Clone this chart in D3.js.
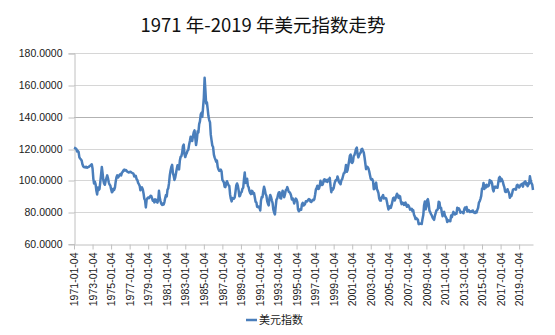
<!DOCTYPE html>
<html>
<head>
<meta charset="utf-8">
<script src="https://cdn.jsdelivr.net/npm/d3@7"></script>
<style>
  html, body { margin: 0; padding: 0; background: #fff; }
  svg { display: block; }
</style>
</head>
<body>
<svg id="chart" width="555" height="335"></svg>
<script>
// US Dollar Index, monthly observations starting 1971-01-04
const startDate = "1971-01-04";

const dxy1970s = [
  120.6,120.4,120.2,119.9,118.3,118.6,117.9,114.5,113.8,113.2,112.4,110.1,
  108.8,108.3,108.5,108.2,108.6,108.0,108.3,108.5,108.9,109.3,109.8,110.2,
  107.5,101.0,98.0,99.2,97.5,93.5,91.2,95.5,94.0,94.6,99.0,103.5,
  108.5,104.5,100.2,98.0,97.3,99.8,101.5,103.2,101.4,98.8,97.4,96.8,
  94.5,92.6,93.0,94.8,94.0,95.5,99.2,102.0,103.2,101.8,102.6,103.5,
  104.0,103.2,104.8,105.4,106.3,106.8,106.2,106.6,106.1,105.5,105.2,105.0,
  105.4,105.5,105.1,104.8,104.6,104.2,102.5,103.0,102.8,100.8,100.2,98.5,
  97.6,96.5,93.8,94.8,95.6,94.5,92.0,88.5,87.5,83.0,87.8,88.8,
  89.2,88.9,89.6,90.3,90.2,88.8,87.3,87.6,86.2,88.1,87.9,86.5
];
const dxy1980s = [
  86.0,87.7,93.5,89.0,87.0,85.3,84.6,85.5,84.8,86.4,88.9,90.8,
  90.0,94.2,95.0,98.3,103.2,106.3,108.5,109.8,104.6,102.9,100.3,101.8,
  104.5,107.3,109.5,108.0,106.9,112.5,114.8,115.3,117.4,121.5,122.5,116.5,
  114.7,116.4,117.2,118.8,119.3,122.5,124.8,127.5,125.6,124.8,127.9,130.3,
  131.5,126.4,122.3,125.5,130.9,130.2,135.4,137.2,141.6,142.5,140.0,145.8,
  152.0,164.6,157.3,148.5,149.2,145.0,140.5,138.0,136.5,128.8,125.2,122.0,
  121.0,116.2,114.5,113.2,111.8,112.5,108.5,106.9,106.0,106.2,106.8,105.6,
  100.4,99.6,98.8,96.0,95.8,98.4,99.5,98.3,96.9,96.6,91.2,88.5,
  86.8,88.9,88.6,88.5,89.3,92.9,96.8,98.1,96.7,93.8,90.0,90.5,
  92.3,92.8,94.8,95.4,100.6,105.0,98.4,99.8,101.1,96.6,95.7,93.4
];
const dxy1990s = [
  92.1,91.4,93.5,93.2,91.6,92.0,89.4,86.6,86.2,83.4,83.2,83.6,
  82.9,81.1,87.2,89.6,89.5,93.4,96.0,94.1,91.3,90.4,87.0,85.4,
  84.3,88.9,90.8,89.6,87.5,85.8,81.6,79.8,78.6,83.5,88.0,88.6,
  91.0,92.5,92.6,88.9,88.6,91.4,93.5,92.2,89.4,91.2,93.8,94.2,
  95.8,94.3,92.7,92.6,91.8,90.4,88.0,88.7,87.4,85.5,87.4,88.6,
  88.0,86.4,81.7,80.6,81.7,81.4,81.5,85.0,85.9,84.2,84.6,85.2,
  86.9,86.7,86.9,87.8,88.3,88.0,86.7,86.4,87.2,87.8,87.5,88.2,
  91.0,94.4,95.2,96.7,94.6,94.8,96.5,99.8,97.8,97.1,97.6,100.0,
  100.7,99.5,100.4,99.4,99.1,100.6,100.2,101.6,96.4,92.6,94.9,94.2,
  95.1,97.8,99.4,100.3,100.1,102.5,101.0,98.9,98.3,97.6,100.1,100.7
];
const dxy2000s = [
  102.5,104.4,104.6,106.3,109.7,105.4,106.4,109.4,112.4,115.6,116.3,111.3,
  111.0,112.0,115.4,116.0,117.8,119.9,120.7,116.5,114.5,115.9,117.0,117.5,
  119.6,119.9,118.6,117.6,114.6,110.8,107.1,108.7,108.4,107.6,105.8,103.4,
  101.1,100.4,100.8,99.6,94.5,94.9,97.5,98.6,94.6,93.5,92.0,88.6,
  87.4,87.3,89.3,89.9,90.8,88.6,88.9,88.9,88.7,86.4,83.8,81.7,
  83.4,83.8,82.7,84.4,86.6,88.8,89.2,87.4,88.6,90.3,91.6,90.8,
  89.0,90.3,89.9,86.7,85.1,86.0,85.7,84.6,85.8,86.1,84.3,83.4,
  84.6,84.1,83.1,81.6,81.9,82.2,80.6,81.3,78.4,77.4,75.7,76.3,
  75.6,75.3,72.5,72.6,72.8,72.9,72.6,75.8,78.2,84.3,86.7,81.8,
  83.5,87.6,88.2,85.5,81.0,80.1,78.8,78.0,76.6,75.9,75.2,77.7
];
const dxy2010s = [
  79.4,81.1,81.3,82.2,86.6,86.2,82.6,82.8,79.8,77.5,79.3,80.2,
  77.8,77.0,76.2,73.8,75.0,74.6,74.5,74.3,77.9,76.9,78.6,80.2,
  79.3,78.6,79.5,79.1,82.8,81.6,82.5,81.5,79.7,80.2,80.2,79.8,
  79.4,81.9,82.9,81.8,83.3,80.4,81.5,81.3,80.2,80.2,80.7,80.2,
  81.1,79.9,80.1,79.5,80.4,79.8,81.5,82.8,86.0,86.9,88.4,90.3,
  94.8,95.3,98.4,94.6,96.9,95.5,97.3,96.2,96.3,97.0,100.2,98.6,
  99.6,98.2,94.6,93.1,95.9,96.1,95.5,96.0,95.4,98.5,101.5,102.2,
  99.5,101.1,100.3,99.1,97.0,95.6,92.9,92.7,93.1,94.5,93.0,92.1,
  89.1,90.6,90.1,91.8,94.0,94.5,94.5,94.8,94.2,96.9,97.3,96.2,
  95.6,96.2,97.3,97.5,97.8,96.1,98.5,98.9,99.4,97.4,98.3,96.4
];
const dxy2020s = [97.4,98.1,102.6,99.8,98.3,97.4,94.0];

const yTicks = [60, 80, 100, 120, 140, 160, 180];
const xTickYears = d3.range(1971, 2020, 2);

const titleText = "1971 年-2019 年美元指数走势";
const seriesName = "美元指数";

// Build the series: one observation per month
const values = [].concat(dxy1970s, dxy1980s, dxy1990s, dxy2000s, dxy2010s, dxy2020s);
const t0 = d3.timeParse("%Y-%m-%d")(startDate);
const series = values.map((v, i) => ({ date: d3.timeMonth.offset(t0, i), value: v }));

const svg = d3.select("#chart");
const plot = { left: 74, right: 533, top: 53.3, bottom: 244 };

const x = d3.scaleTime()
  .domain([t0, series[series.length - 1].date])
  .range([plot.left, plot.right]);
const y = d3.scaleLinear()
  .domain([60, 180])
  .range([plot.bottom, plot.top]);

const labelFont = "'Liberation Sans', Arial, sans-serif";

// Title
svg.append("text")
  .attr("x", 263)
  .attr("y", 31.5)
  .attr("text-anchor", "middle")
  .attr("font-family", "'Noto Sans CJK SC', sans-serif")
  .attr("font-size", 18.5)
  .attr("fill", "#111")
  .text(titleText);

// Horizontal gridlines (the 140 level is drawn a shade darker)
svg.append("g")
  .selectAll("line")
  .data(yTicks.filter(d => d > 60))
  .join("line")
  .attr("x1", plot.left)
  .attr("x2", plot.right)
  .attr("y1", d => Math.round(y(d)) + 0.5)
  .attr("y2", d => Math.round(y(d)) + 0.5)
  .attr("stroke", d => d === 140 ? "#b2b2b2" : "#d6d6d6")
  .attr("stroke-width", 1);

// Y axis
const yAxis = d3.axisLeft(y)
  .tickValues(yTicks)
  .tickFormat(d3.format(".4f"))
  .tickSize(6)
  .tickPadding(6);
const gy = svg.append("g")
  .attr("transform", `translate(${plot.left + 0.5},0)`)
  .call(yAxis);
gy.select(".domain").attr("stroke", "#c0c0c0");
gy.selectAll(".tick line").attr("stroke", "#c0c0c0")
  .attr("transform", d => `translate(0,${Math.round(y(d)) + 0.5 - y(d)})`);
gy.selectAll(".tick text")
  .attr("font-family", labelFont)
  .attr("font-size", 10.5)
  .attr("fill", "#1a1a1a");

// X axis
const xAxis = d3.axisBottom(x)
  .tickValues(xTickYears.map(yr => new Date(yr, 0, 4)))
  .tickFormat(d3.timeFormat("%Y-%m-%d"))
  .tickSize(5)
  .tickSizeOuter(0);
const gx = svg.append("g")
  .attr("transform", `translate(0,${Math.round(plot.bottom) + 0.5})`)
  .call(xAxis);
gx.select(".domain").attr("stroke", "#c0c0c0");
gx.selectAll(".tick line").attr("stroke", "#c0c0c0");
gx.selectAll(".tick text")
  .attr("font-family", labelFont)
  .attr("font-size", 10.5)
  .attr("fill", "#1a1a1a")
  .attr("text-anchor", "end")
  .attr("dy", "0.35em")
  .attr("transform", "translate(0,8) rotate(-90)")
  .attr("x", 0)
  .attr("y", 0);

// Index line
const line = d3.line()
  .x(d => x(d.date))
  .y(d => y(d.value));
svg.append("path")
  .datum(series)
  .attr("fill", "none")
  .attr("stroke", "#4a7ebb")
  .attr("stroke-width", 2.5)
  .attr("stroke-linejoin", "round")
  .attr("d", line);

// Legend
const legend = svg.append("g").attr("transform", "translate(246,320)");
legend.append("line")
  .attr("x1", 0).attr("x2", 11)
  .attr("y1", 0).attr("y2", 0)
  .attr("stroke", "#4a7ebb")
  .attr("stroke-width", 2.5);
legend.append("text")
  .attr("x", 13)
  .attr("y", 0)
  .attr("dy", "0.35em")
  .attr("font-family", "'Noto Sans CJK SC', sans-serif")
  .attr("font-size", 11)
  .attr("fill", "#1a1a1a")
  .text(seriesName);
</script>
</body>
</html>
